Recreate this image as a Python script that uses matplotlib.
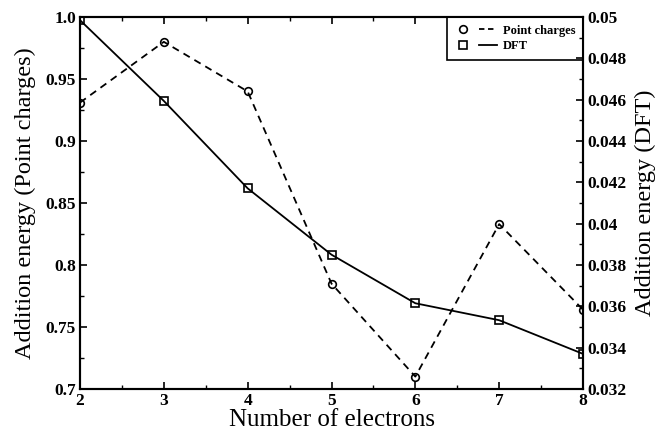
import numpy as np
import matplotlib
matplotlib.use('Agg')
import matplotlib.pyplot as plt
from matplotlib.lines import Line2D
from matplotlib.legend_handler import HandlerTuple
from matplotlib.ticker import MultipleLocator

plt.rcParams['font.family'] = ['Liberation Serif', 'DejaVu Serif']

electrons = [2, 3, 4, 5, 6, 7, 8]
point_charges = [0.931, 0.980, 0.940, 0.785, 0.710, 0.833, 0.764]
dft = [0.04985, 0.04594, 0.04171, 0.0385, 0.03615, 0.03533, 0.0337]

fig = plt.figure(figsize=(6.65, 4.37), dpi=100)
ax = fig.add_axes([0.1203, 0.1098, 0.7564, 0.8512])
ax2 = ax.twinx()

ax.plot(electrons, point_charges, 'k--', linewidth=1.3, marker='o',
        markersize=5.5, markerfacecolor='none', markeredgewidth=1.2, dashes=(4, 3))
ax2.plot(electrons, dft, 'k-', linewidth=1.3, marker='s',
         markersize=5.5, markerfacecolor='none', markeredgewidth=1.2)

ax.set_xlim(2, 8)
ax.set_ylim(0.7, 1.0)
ax2.set_ylim(0.032, 0.05)

ax.xaxis.set_major_locator(MultipleLocator(1))
ax.xaxis.set_minor_locator(MultipleLocator(0.5))
ax.yaxis.set_minor_locator(MultipleLocator(0.025))
ax2.yaxis.set_minor_locator(MultipleLocator(0.001))

ax.set_yticks([0.7, 0.75, 0.8, 0.85, 0.9, 0.95, 1.0])
ax.set_yticklabels(['0.7', '0.75', '0.8', '0.85', '0.9', '0.95', '1.0'])
ax2.set_yticks([0.032, 0.034, 0.036, 0.038, 0.04, 0.042, 0.044, 0.046, 0.048, 0.05])
ax2.set_yticklabels(['0.032', '0.034', '0.036', '0.038', '0.04', '0.042',
                     '0.044', '0.046', '0.048', '0.05'])

ax.tick_params(axis='x', which='both', direction='in', top=True)
ax.tick_params(axis='y', which='both', direction='in', left=True, right=False)
ax2.tick_params(axis='y', which='both', direction='in')
for a in (ax, ax2):
    a.tick_params(which='major', length=5, width=1.2, labelsize=12.5, pad=3)
    a.tick_params(which='minor', length=3, width=1)
    for lab in a.get_xticklabels() + a.get_yticklabels():
        lab.set_fontweight('bold')
    for s in a.spines.values():
        s.set_linewidth(1.5)

ax.set_xlabel('Number of electrons', fontsize=18, labelpad=0)
ax.set_ylabel('Addition energy (Point charges)', fontsize=17.5, labelpad=7)
ax2.set_ylabel('Addition energy (DFT)', fontsize=17.5, labelpad=6)

h1 = (Line2D([], [], color='k', marker='o', linestyle='none', markersize=5.5,
             markerfacecolor='none', markeredgewidth=1.2),
      Line2D([], [], color='k', linestyle='--', linewidth=1.3, dashes=(3, 2)))
h2 = (Line2D([], [], color='k', marker='s', linestyle='none', markersize=5.5,
             markerfacecolor='none', markeredgewidth=1.2),
      Line2D([], [], color='k', linestyle='-', linewidth=1.3))
leg = ax.legend([h1, h2], ['Point charges', 'DFT'],
                handler_map={tuple: HandlerTuple(ndivide=None, pad=0.6)},
                loc='upper right', borderaxespad=0, fancybox=False,
                edgecolor='black', framealpha=1, handlelength=3.4,
                prop={'size': 9, 'weight': 'bold'}, borderpad=0.6,
                labelspacing=0.3, handletextpad=0.5)
leg.get_frame().set_linewidth(1.2)
leg.set_zorder(5)

fig.savefig('out.png', dpi=100)
